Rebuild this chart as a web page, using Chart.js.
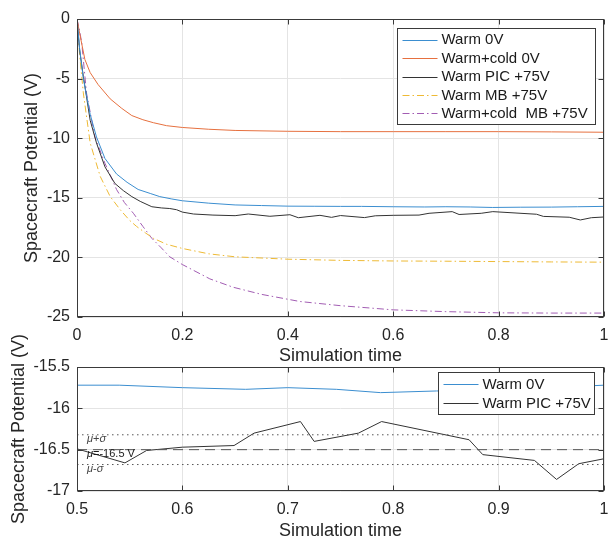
<!DOCTYPE html>
<html><head><meta charset="utf-8">
<script src="https://cdn.jsdelivr.net/npm/chart.js@4.4.0/dist/chart.umd.min.js"></script>
<style>
html,body{margin:0;padding:0;background:#fff;overflow:hidden;width:608px;height:537px;}
#c1{position:absolute;left:0;top:0;}
#c2{position:absolute;left:0;top:320px;}
</style></head><body>
<canvas id="c1" width="608" height="370"></canvas>
<canvas id="c2" width="608" height="226"></canvas>
<script>
// ---------- data ----------
const tWarm0 = [0, 0.005, 0.012, 0.025, 0.037, 0.053, 0.075, 0.095, 0.116, 0.14, 0.157, 0.18, 0.2, 0.25, 0.3, 0.35, 0.4, 0.45, 0.5, 0.54, 0.6, 0.66, 0.7, 0.746, 0.788, 0.841, 0.9, 0.95, 1.0];
const vWarm0 = [0, -2.5, -5.0, -8.0, -9.9, -11.7, -13.0, -13.7, -14.3, -14.65, -14.9, -15.1, -15.25, -15.45, -15.6, -15.65, -15.7, -15.71, -15.72, -15.72, -15.75, -15.77, -15.75, -15.77, -15.81, -15.79, -15.78, -15.75, -15.72];

const tCold0 = [0, 0.005, 0.015, 0.025, 0.04, 0.063, 0.085, 0.104, 0.125, 0.145, 0.17, 0.2, 0.25, 0.3, 0.4, 0.5, 0.6, 0.7, 0.8, 0.9, 1.0];
const vCold0 = [0, -1.2, -3.4, -4.5, -5.5, -6.7, -7.5, -8.1, -8.45, -8.7, -8.95, -9.1, -9.25, -9.35, -9.42, -9.45, -9.45, -9.45, -9.45, -9.47, -9.5];

const tPIC = [0, 0.005, 0.012, 0.025, 0.037, 0.053, 0.072, 0.088, 0.104, 0.12, 0.142, 0.16, 0.176, 0.189, 0.2, 0.221, 0.258, 0.3, 0.325, 0.366, 0.404, 0.42, 0.461, 0.483, 0.5, 0.5455, 0.566, 0.6, 0.649, 0.668, 0.712, 0.725, 0.767, 0.789, 0.872, 0.885, 0.934, 0.955, 0.976, 1.0];
const vPIC = [0, -2.6, -4.8, -8.5, -10.4, -12.4, -13.8, -14.4, -14.9, -15.3, -15.75, -15.85, -15.9, -16.0, -16.2, -16.36, -16.45, -16.5, -16.36, -16.55, -16.42, -16.67, -16.47, -16.64, -16.49, -16.66, -16.51, -16.47, -16.45, -16.3, -16.16, -16.4, -16.3, -16.16, -16.38, -16.56, -16.63, -16.86, -16.67, -16.61];

const tMB = [0, 0.005, 0.012, 0.025, 0.044, 0.063, 0.082, 0.1, 0.113, 0.13, 0.145, 0.17, 0.2, 0.25, 0.3, 0.4, 0.5, 0.6, 0.7, 0.8, 0.9, 1.0];
const vMB = [0, -3.0, -6.2, -10.4, -13.2, -14.9, -16.0, -16.9, -17.4, -17.95, -18.4, -18.9, -19.25, -19.7, -19.95, -20.15, -20.25, -20.3, -20.32, -20.35, -20.38, -20.4];

const tColdMB = [0, 0.005, 0.009, 0.018, 0.034, 0.053, 0.075, 0.09, 0.107, 0.125, 0.142, 0.16, 0.176, 0.2, 0.252, 0.296, 0.35, 0.423, 0.5, 0.6, 0.7, 0.8, 0.9, 1.0];
const vColdMB = [0, -1.0, -2.0, -6.2, -9.9, -12.1, -14.3, -15.4, -16.3, -17.4, -18.4, -19.2, -19.95, -20.6, -21.8, -22.5, -23.1, -23.7, -24.05, -24.4, -24.55, -24.65, -24.67, -24.67];

const MU = -16.5;
const SIGMA = 0.18;
const ZOOM_T = [0.5, 1.0];

const seriesLabels = ['Warm 0V', 'Warm+cold 0V', 'Warm PIC +75V', 'Warm MB +75V', 'Warm+cold  MB +75V'];
const xLabel = 'Simulation time';
const yLabel = 'Spacecraft Potential (V)';

// ---------- styles ----------
const FONT = "'Liberation Sans', Arial, Helvetica, sans-serif";
Chart.defaults.font.family = FONT;
Chart.defaults.color = '#262626';
const COL = {blue:'#3b8ed0', orange:'#e6703f', black:'#333333', yellow:'#eeba35', purple:'#a25db3', ref:'#555555'};
const DASHDOT = [7, 3, 1.5, 3];
const fmt = v => String(Math.round(v * 100) / 100);

function pts(xs, ys){ return xs.map((t,i)=>({x:t, y:ys[i]})); }
function ds(label, xs, ys, color, dash, legend){
  return {label, data: pts(xs, ys), borderColor: color, backgroundColor: color, borderWidth: 1,
          borderDash: dash || [], pointRadius: 0, pointHoverRadius: 0, tension: 0, fill: false,
          showInLegend: legend !== false};
}

// frame + inward ticks
const framePlugin = {
  id: 'frameBox',
  afterDatasetsDraw(chart){
    const {ctx, chartArea: a, scales: {x, y}} = chart;
    ctx.save();
    ctx.strokeStyle = '#3a3a3a'; ctx.lineWidth = 1; ctx.setLineDash([]);
    const L = Math.round(a.left) + 0.5, R = Math.round(a.right) - 0.5;
    const T = Math.round(a.top) + 0.5, B = Math.round(a.bottom) - 0.5;
    ctx.strokeRect(L, T, R - L, B - T);
    ctx.beginPath();
    x.ticks.forEach(t => { const p = Math.round(x.getPixelForValue(t.value)) + 0.5;
      ctx.moveTo(p, B); ctx.lineTo(p, B - 5); ctx.moveTo(p, T); ctx.lineTo(p, T + 5); });
    y.ticks.forEach(t => { const p = Math.round(y.getPixelForValue(t.value)) + 0.5;
      ctx.moveTo(L, p); ctx.lineTo(L + 5, p); ctx.moveTo(R, p); ctx.lineTo(R - 5, p); });
    ctx.stroke();
    ctx.restore();
  }
};

// boxed legend inside the plot (top-right)
const boxLegend = {
  id: 'boxLegend',
  afterDraw(chart, args, o){
    const {ctx, chartArea: a} = chart;
    const items = chart.data.datasets.filter(d => d.showInLegend);
    const h = items.length * o.rowHeight + 4;
    const x0 = Math.round(a.right - o.right - o.width) + 0.5;
    const y0 = Math.round(a.top + o.top) + 0.5;
    ctx.save();
    ctx.fillStyle = '#fff';
    ctx.fillRect(x0, y0, o.width, h);
    ctx.strokeStyle = '#3a3a3a'; ctx.lineWidth = 1; ctx.setLineDash([]);
    ctx.strokeRect(x0, y0, o.width, Math.round(h));
    ctx.font = '15px ' + FONT;
    ctx.textBaseline = 'middle';
    ctx.textAlign = 'left';
    items.forEach((d, i) => {
      const cy = y0 + 2 + o.rowHeight * (i + 0.5);
      ctx.strokeStyle = d.borderColor; ctx.lineWidth = 1; ctx.setLineDash(d.borderDash || []);
      ctx.beginPath(); ctx.moveTo(x0 + 5, Math.round(cy) + 0.5); ctx.lineTo(x0 + 40, Math.round(cy) + 0.5); ctx.stroke();
      ctx.fillStyle = '#1a1a1a';
      ctx.fillText(d.label, x0 + 44, cy + 0.5);
    });
    ctx.restore();
  }
};

// mu / sigma text labels
const muLabels = {
  id: 'muLabels',
  afterDatasetsDraw(chart, args, o){
    if (!o || !o.items) return;
    const {ctx, scales: {x, y}} = chart;
    const px0 = x.getPixelForValue(x.min) + 10;
    ctx.save();
    ctx.textBaseline = 'middle'; ctx.textAlign = 'left';
    o.items.forEach(it => {
      const py = y.getPixelForValue(it.y) + 4;
      let cx = px0;
      it.parts.forEach(([txt, italic]) => {
        ctx.font = (italic ? 'italic ' : '') + '11px ' + FONT;
        ctx.fillStyle = it.color;
        ctx.fillText(txt, cx, py);
        cx += ctx.measureText(txt).width;
      });
    });
    ctx.restore();
  }
};

function baseOptions(cfg){
  return {
    responsive: false, maintainAspectRatio: false, animation: false,
    layout: {padding: {top: cfg.padTop, right: 4, left: 0, bottom: 0}},
    plugins: {legend: {display: false}, tooltip: {enabled: false},
              boxLegend: cfg.legend, muLabels: cfg.mu || {}},
    scales: {
      x: {type: 'linear', min: cfg.xMin, max: cfg.xMax,
          ticks: {stepSize: cfg.xStep, padding: 9, font: {size: 16}, color: '#262626', maxRotation: 0, callback: fmt},
          grid: {color: '#e4e4e4', drawTicks: false},
          border: {display: false},
          title: {display: true, text: xLabel, font: {size: 18}, color: '#262626', padding: {top: 0, bottom: cfg.xTitlePad}},
          afterFit(s){ s.height = cfg.xHeight; s.paddingLeft = 0; s.paddingRight = 0; }},
      y: {type: 'linear', min: cfg.yMin, max: cfg.yMax,
          ticks: {stepSize: cfg.yStep, padding: 7, font: {size: 16}, color: '#262626', callback: fmt},
          grid: {color: '#e4e4e4', drawTicks: false},
          border: {display: false},
          title: {display: true, text: yLabel, font: {size: 18}, color: '#262626', padding: {top: cfg.yTitlePad, bottom: 0}},
          afterFit(s){ s.width = 77; s.paddingTop = 0; s.paddingBottom = 0; }}
    }
  };
}

// ---------- top chart ----------
new Chart(document.getElementById('c1'), {
  type: 'line',
  data: {datasets: [
    ds(seriesLabels[0], tWarm0, vWarm0, COL.blue),
    ds(seriesLabels[1], tCold0, vCold0, COL.orange),
    ds(seriesLabels[2], tPIC, vPIC, COL.black),
    ds(seriesLabels[3], tMB, vMB, COL.yellow, DASHDOT),
    ds(seriesLabels[4], tColdMB, vColdMB, COL.purple, DASHDOT)
  ]},
  options: baseOptions({padTop: 19, xMin: 0, xMax: 1, xStep: 0.2, yMin: -25, yMax: 0, yStep: 5,
    xHeight: 53, xTitlePad: 3, yTitlePad: 21,
    legend: {width: 198, rowHeight: 18.4, right: 9, top: 9}}),
  plugins: [framePlugin, boxLegend, muLabels]
});

// ---------- bottom chart ----------
new Chart(document.getElementById('c2'), {
  type: 'line',
  data: {datasets: [
    ds('mu+sigma', ZOOM_T, [MU + SIGMA, MU + SIGMA], COL.ref, [1.5, 3.5], false),
    ds('mu', ZOOM_T, [MU, MU], COL.ref, [10, 6], false),
    ds('mu-sigma', ZOOM_T, [MU - SIGMA, MU - SIGMA], COL.ref, [1.5, 3.5], false),
    ds(seriesLabels[0], tWarm0, vWarm0, COL.blue),
    ds(seriesLabels[2], tPIC, vPIC, COL.black)
  ]},
  options: baseOptions({padTop: 47, xMin: 0.5, xMax: 1, xStep: 0.1, yMin: -17, yMax: -15.5, yStep: 0.5,
    xHeight: 55, xTitlePad: 4.5, yTitlePad: 8,
    legend: {width: 156, rowHeight: 19, right: 10, top: 5},
    mu: {items: [
      {y: MU + SIGMA, color: '#444', parts: [['μ', true], ['+', false], ['σ', true]]},
      {y: MU, color: '#1a1a1a', parts: [['μ', true], ['=' + MU + ' V', false]]},
      {y: MU - SIGMA, color: '#444', parts: [['μ', true], ['-', false], ['σ', true]]}
    ]}}),
  plugins: [framePlugin, boxLegend, muLabels]
});
</script>
</body></html>
